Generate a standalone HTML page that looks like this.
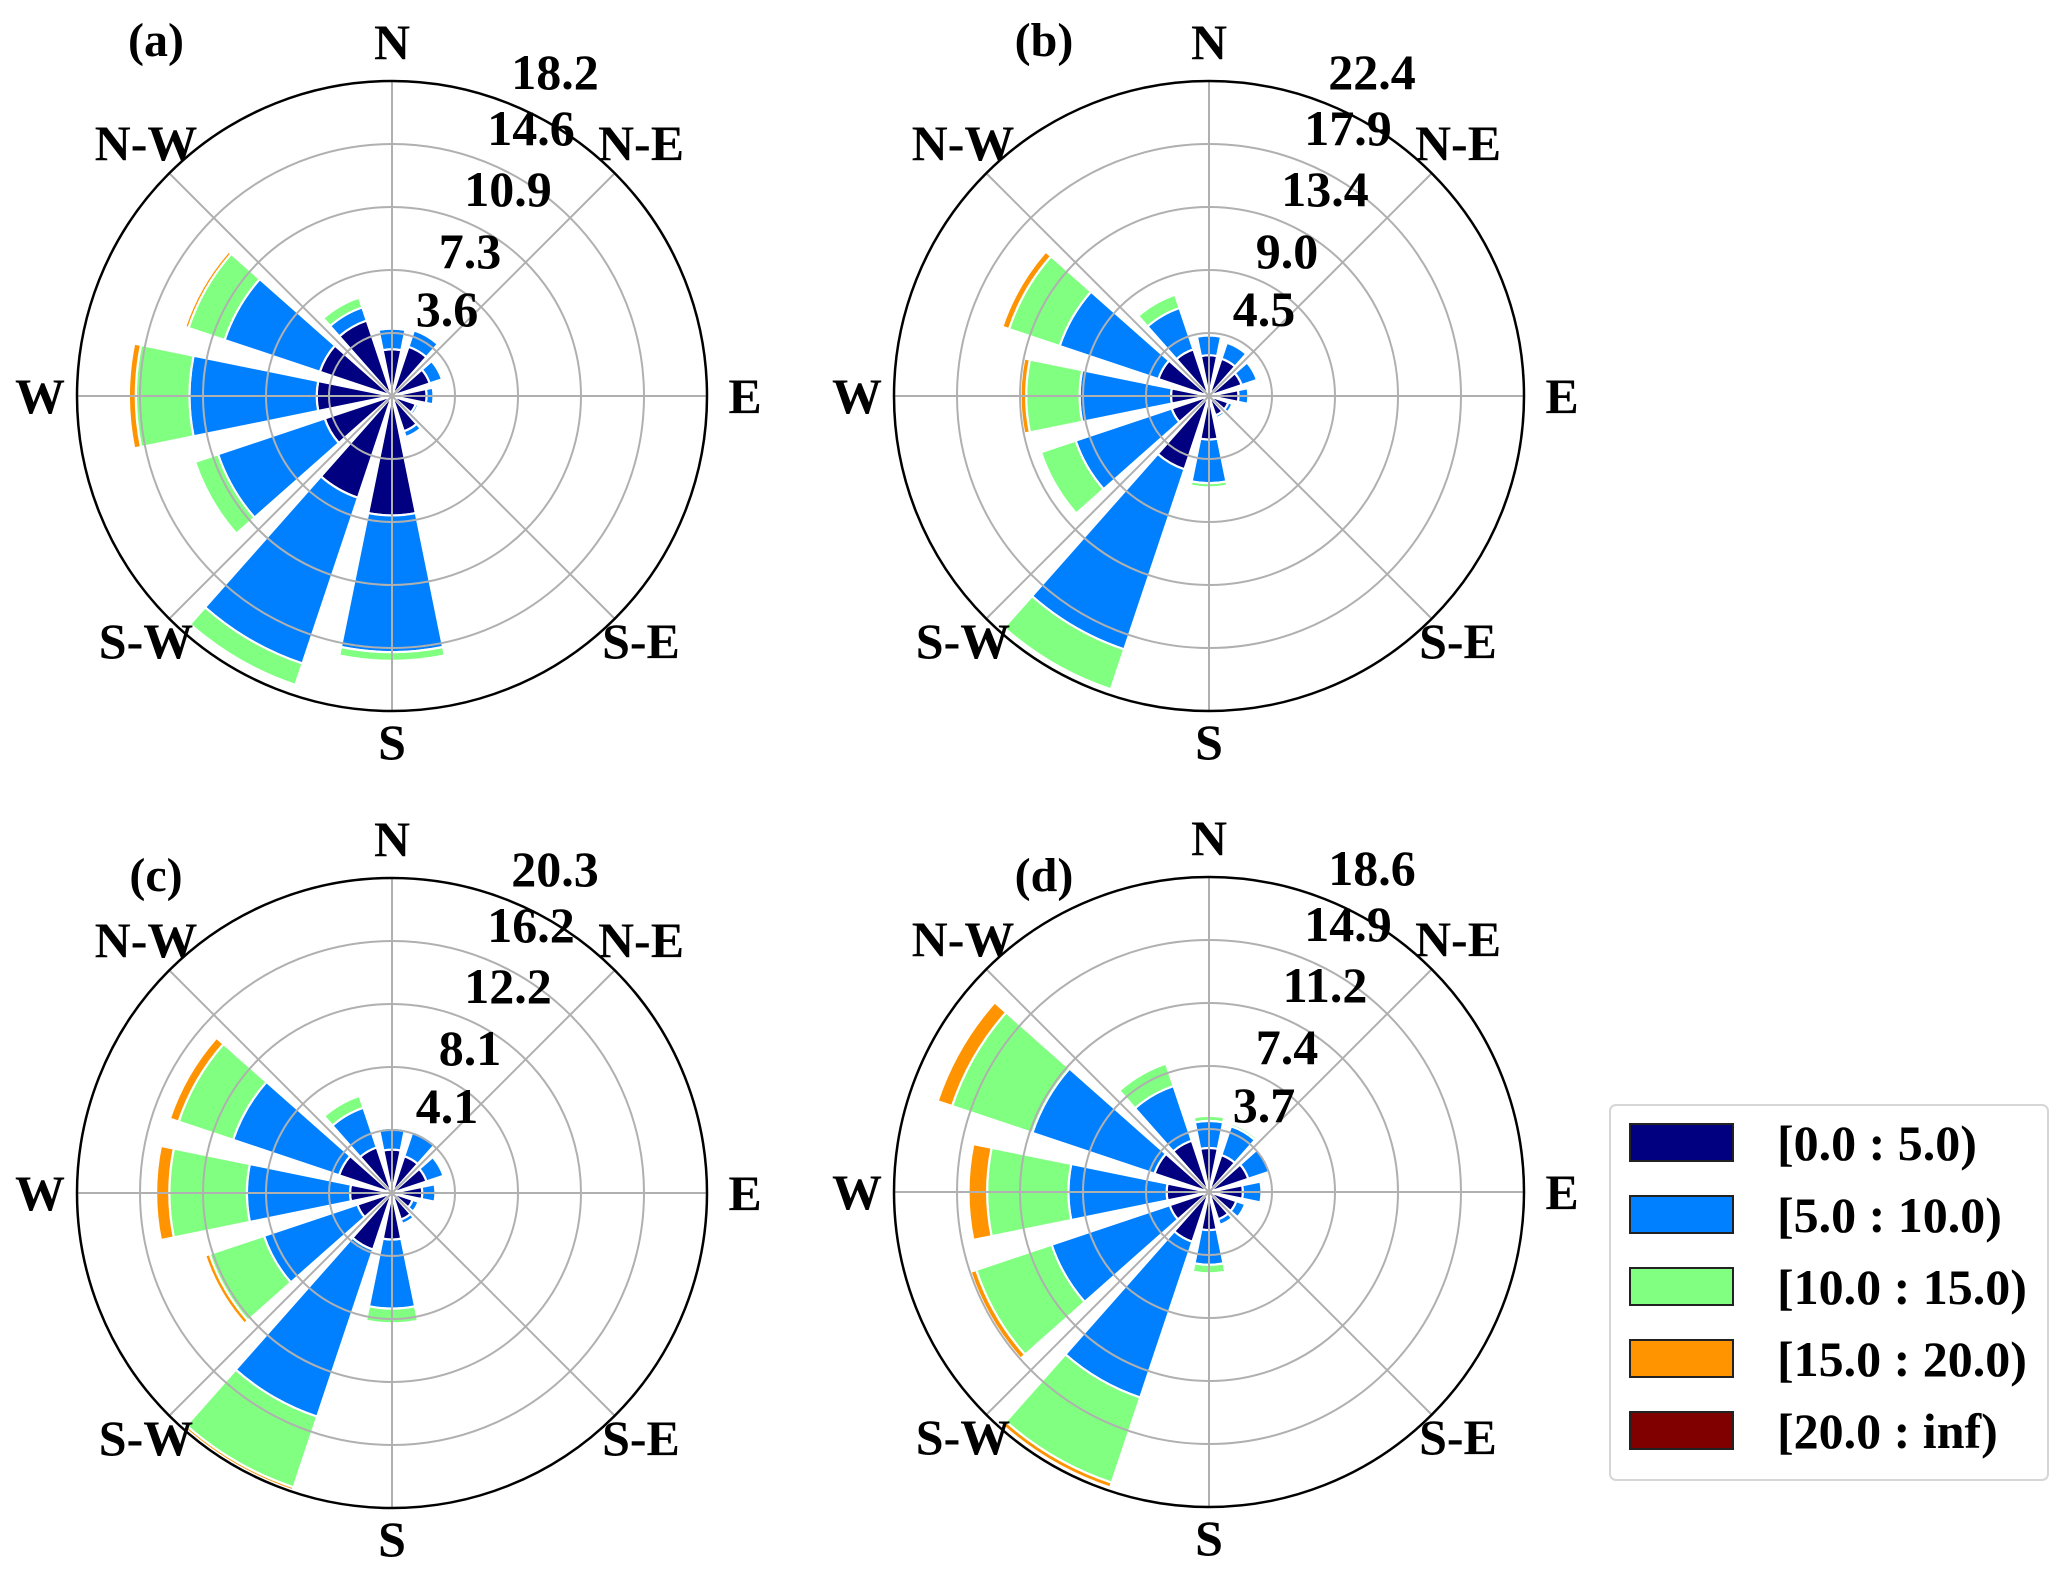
<!DOCTYPE html>
<html><head><meta charset="utf-8"><style>
html,body{margin:0;padding:0;background:#fff;}
svg{display:block;}
text{font-family:"Liberation Serif","DejaVu Serif",serif;font-weight:bold;fill:#000;}
</style></head><body>
<svg id="fig" width="2067" height="1571" viewBox="0 0 2067 1571" xmlns="http://www.w3.org/2000/svg">
  <g id="panels"></g>
  <g id="legend">
    <rect x="1610" y="1105" width="438" height="375" rx="6" fill="#fff" stroke="#d6d6d6" stroke-width="2"/>
  </g>
</svg>
<script>
// Direction categories (degrees clockwise from North)
const directions = [0,30,60,90,120,150,180,210,240,270,300,330];
const compassLabels = ["N","N-E","E","S-E","S","S-W","W","N-W"];
const binLabels = ["[0.0 : 5.0)","[5.0 : 10.0)","[10.0 : 15.0)","[15.0 : 20.0)","[20.0 : inf)"];
const binColors = ["#000080","#0080ff","#80ff80","#ff9400","#800000"];
const panelLetters = ["(a)","(b)","(c)","(d)"];

// Radial axis max per panel and tick labels
const rMaxA = 18.2, rMaxB = 22.4, rMaxC = 20.3, rMaxD = 18.6;
const ticksA = ["3.6","7.3","10.9","14.6","18.2"];
const ticksB = ["4.5","9.0","13.4","17.9","22.4"];
const ticksC = ["4.1","8.1","12.2","16.2","20.3"];
const ticksD = ["3.7","7.4","11.2","14.9","18.6"];

// Panel (a) frequencies per speed bin
const a_bin0 = [2.7,3.0,2.3,2.0,1.45,2.15,6.9,6.2,4.1,4.35,4.4,4.6];
const a_bin1 = [1.2,1.0,0.75,0.4,0.15,0.35,7.9,10.1,6.5,7.35,5.8,0.8];
const a_bin2 = [0.1,0,0,0,0,0,0.5,1.3,1.4,3.1,2.2,0.6];
const a_bin3 = [0,0,0,0,0,0,0,0,0,0.4,0.2,0];
const a_bin4 = [0,0,0,0,0,0,0,0,0,0,0,0];
// Panel (b)
const b_bin0 = [2.9,2.8,2.45,2.1,1.45,1.45,3.1,5.5,2.8,2.7,3.8,3.5];
const b_bin1 = [1.4,1.2,1.15,0.7,0.3,0.2,3.1,13.5,7.2,6.5,7.4,3.1];
const b_bin2 = [0,0,0,0,0,0,0.3,3.0,2.6,3.8,3.8,1.0];
const b_bin3 = [0,0,0,0,0,0,0,0.15,0,0.4,0.5,0];
const b_bin4 = [0,0,0,0,0,0,0,0,0,0,0,0];
// Panel (c)
const c_bin0 = [2.8,2.5,2.35,1.95,1.4,1.8,3.0,3.85,2.35,2.7,3.6,3.1];
const c_bin1 = [1.4,1.7,1.15,0.85,0.4,0.3,4.45,11.35,6.35,6.65,7.2,2.7];
const c_bin2 = [0.1,0.1,0,0,0,0,0.95,4.8,3.7,5.0,3.7,0.8];
const c_bin3 = [0,0,0,0,0,0,0,0.2,0.3,0.85,0.6,0];
const c_bin4 = [0,0,0,0,0,0,0,0,0,0,0,0];
// Panel (d)
const d_bin0 = [2.6,2.3,2.45,2.0,1.7,1.7,2.25,3.1,2.45,2.5,3.4,3.2];
const d_bin1 = [1.6,1.8,1.35,1.1,0.55,0.35,2.05,9.7,7.35,5.8,7.6,3.4];
const d_bin2 = [0.3,0.15,0,0,0,0,0.5,5.3,4.7,4.8,5.0,1.4];
const d_bin3 = [0,0,0,0,0,0,0,0.3,0.35,1.1,0.9,0.1];
const d_bin4 = [0,0,0,0,0,0,0,0,0,0,0,0];

const NS = "http://www.w3.org/2000/svg";
function mk(tag, attrs, parent){
  const e = document.createElementNS(NS, tag);
  for (const k in attrs) e.setAttribute(k, attrs[k]);
  parent.appendChild(e);
  return e;
}
const R = 315;
const panels = [
  {cx:392, cy:396, max:rMaxA, ticks:ticksA, bins:[a_bin0,a_bin1,a_bin2,a_bin3,a_bin4], lx:156, ly:40},
  {cx:1209, cy:396, max:rMaxB, ticks:ticksB, bins:[b_bin0,b_bin1,b_bin2,b_bin3,b_bin4], lx:1044, ly:40},
  {cx:392, cy:1193, max:rMaxC, ticks:ticksC, bins:[c_bin0,c_bin1,c_bin2,c_bin3,c_bin4], lx:156, ly:875},
  {cx:1209, cy:1192, max:rMaxD, ticks:ticksD, bins:[d_bin0,d_bin1,d_bin2,d_bin3,d_bin4], lx:1044, ly:875}
];
const tickOffsets = [[55,-87],[78,-145],[116,-207],[139,-268],[163,-324]];
const compassOffsets = [[0,-354],[249,-253],[353,0],[249,245],[0,346],[-246,245],[-352,0],[-246,-253]];

function pt(cx, cy, r, deg){
  const t = deg*Math.PI/180;
  return [cx + r*Math.sin(t), cy - r*Math.cos(t)];
}
function wedge(cx, cy, r0, r1, a0, a1){
  const p1 = pt(cx,cy,r0,a0), p2 = pt(cx,cy,r1,a0), p3 = pt(cx,cy,r1,a1), p4 = pt(cx,cy,r0,a1);
  return "M"+p1[0]+","+p1[1]+" L"+p2[0]+","+p2[1]+" A"+r1+","+r1+" 0 0 1 "+p3[0]+","+p3[1]+
         " L"+p4[0]+","+p4[1]+(r0>0 ? " A"+r0+","+r0+" 0 0 0 "+p1[0]+","+p1[1] : "")+" Z";
}

const root = document.getElementById("panels");
panels.forEach((P, pi) => {
  const g = mk("g", {}, root);
  
  
  const scale = R / P.max;
  directions.forEach((dir, di) => {
    let cum = 0;
    P.bins.forEach((arr, bi) => {
      const v = arr[di];
      if (v <= 0) return;
      const r0 = cum*scale, r1 = (cum+v)*scale;
      cum += v;
      const p = mk("path", {d: wedge(P.cx, P.cy, r0, r1, dir-11.5, dir+11.5), fill: binColors[bi], stroke:"#fff", "stroke-width":"2.2"}, g);
      
      
    });
  });
  for (let i = 1; i <= 4; i++){
    const c = mk("circle", {cx:P.cx, cy:P.cy, r:R*i/5, fill:"none", stroke:"#b0b0b0", "stroke-width":"2"}, g);
    
    
  }
  for (let k = 0; k < 8; k++){
    const e = pt(P.cx, P.cy, R, k*45);
    const l = mk("line", {x1:P.cx, y1:P.cy, x2:e[0], y2:e[1], stroke:"#b0b0b0", "stroke-width":"2"}, g);
    
    
  }
  const oc = mk("circle", {cx:P.cx, cy:P.cy, r:R, fill:"none", stroke:"#000", "stroke-width":"2.5"}, g);
  
  
  compassLabels.forEach((lab, k) => {
    const t = mk("text", {x:P.cx+compassOffsets[k][0], y:P.cy+compassOffsets[k][1]+17, "text-anchor":"middle", "font-size":"50"}, g);
    t.textContent = lab;
    
    
  });
  P.ticks.forEach((lab, k) => {
    const t = mk("text", {x:P.cx+tickOffsets[k][0], y:P.cy+tickOffsets[k][1]+17, "text-anchor":"middle", "font-size":"50"}, g);
    t.textContent = lab;
    
    
  });
  const pl = mk("text", {x:P.lx, y:P.ly+16, "text-anchor":"middle", "font-size":"48"}, g);
  pl.textContent = panelLetters[pi];
  
  
});

const lg = document.getElementById("legend");
binLabels.forEach((lab, i) => {
  const y = 1124 + i*72;
  const r = mk("rect", {x:1630, y:y, width:103, height:37, fill:binColors[i], stroke:"#222", "stroke-width":"2"}, lg);
  
  
  const t = mk("text", {x:1777, y:y+36, "font-size":"50"}, lg);
  t.textContent = lab;
  
  
});
</script>
</body></html>
